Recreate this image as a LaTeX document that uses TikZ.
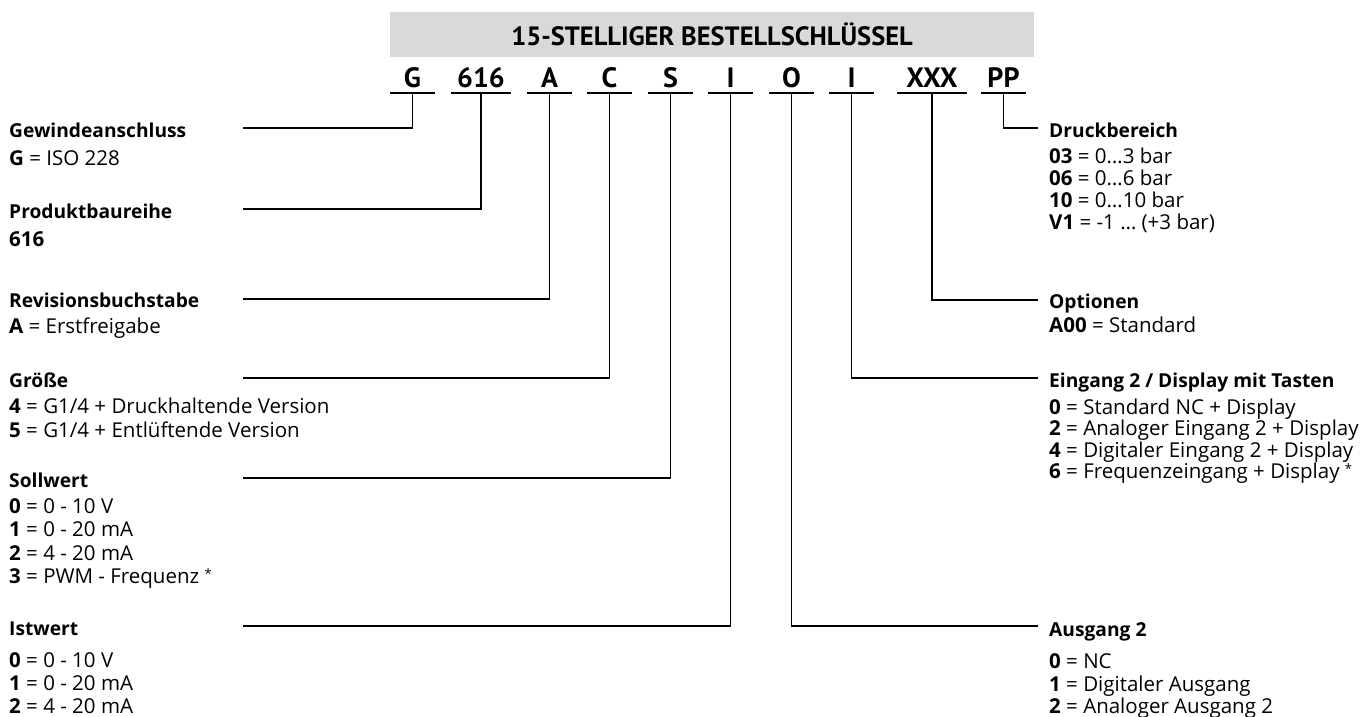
\documentclass[tikz,border=0pt]{standalone}
\usepackage{fontspec}
\setmainfont{Open Sans}
\newfontfamily\codefont{PT Sans}
\usetikzlibrary{positioning}

\definecolor{headgray}{RGB}{217,217,217}

\tikzset{
  heading/.style={anchor=base west, inner sep=0pt, font=\fontsize{19.2}{22}\selectfont\bfseries},
  value/.style={anchor=base west, inner sep=0pt, font=\fontsize{20.5}{23}\selectfont},
  codechar/.style={anchor=base, inner sep=0pt, font=\codefont\fontsize{28}{30}\selectfont\bfseries},
  bar/.style={line width=2.8pt},
  conn/.style={line width=1.6pt},
}
\newcommand{\footmark}{\ \raisebox{5pt}{\fontsize{13}{13}\selectfont *}}

\begin{document}
\begin{tikzpicture}[x=1pt, y=-1pt]
  \useasboundingbox (0,0) rectangle (1367,716);
  % title
  \node[fill=headgray, minimum width=644pt, minimum height=45pt, inner sep=0pt,
        font=\codefont\fontsize{26.5}{30}\selectfont\bfseries] (title) at (712,34.5) {15-STELLIGER BESTELLSCHLÜSSEL};
  % code characters
  \node[codechar, minimum width=45pt] (cthread) at (412.5,87) {G};
  \node[codechar, minimum width=60pt] (cseries) at (481,87) {616};
  \node[codechar, minimum width=45pt] (crev) at (549.5,87) {A};
  \node[codechar, minimum width=45pt] (csize) at (609.5,87) {C};
  \node[codechar, minimum width=45pt] (cset) at (670.5,87) {S};
  \node[codechar, minimum width=45pt] (cact) at (730.5,87) {I};
  \node[codechar, minimum width=45pt] (cout) at (791.5,87) {O};
  \node[codechar, minimum width=45pt] (cin) at (851.5,87) {I};
  \node[codechar, minimum width=70pt] (copt) at (932,87) {XXX};
  \node[codechar, minimum width=45pt] (crange) at (1003.5,87) {PP};
  \draw[bar] ([yshift=-6pt]cthread.base west) -- ([yshift=-6pt]cthread.base east);
  \draw[bar] ([yshift=-6pt]cseries.base west) -- ([yshift=-6pt]cseries.base east);
  \draw[bar] ([yshift=-6pt]crev.base west) -- ([yshift=-6pt]crev.base east);
  \draw[bar] ([yshift=-6pt]csize.base west) -- ([yshift=-6pt]csize.base east);
  \draw[bar] ([yshift=-6pt]cset.base west) -- ([yshift=-6pt]cset.base east);
  \draw[bar] ([yshift=-6pt]cact.base west) -- ([yshift=-6pt]cact.base east);
  \draw[bar] ([yshift=-6pt]cout.base west) -- ([yshift=-6pt]cout.base east);
  \draw[bar] ([yshift=-6pt]cin.base west) -- ([yshift=-6pt]cin.base east);
  \draw[bar] ([yshift=-6pt]copt.base west) -- ([yshift=-6pt]copt.base east);
  \draw[bar] ([yshift=-6pt]crange.base west) -- ([yshift=-6pt]crange.base east);
  % line ends
  \coordinate (lthread) at (243,128);
  \coordinate (lseries) at (243,209);
  \coordinate (lrev) at (243,299);
  \coordinate (lsize) at (243,378);
  \coordinate (lset) at (243,478);
  \coordinate (lact) at (243,626);
  \coordinate (rrange) at (1038,128);
  \coordinate (ropt) at (1038,300);
  \coordinate (rin) at (1038,378);
  \coordinate (rout) at (1038,626);
  \draw[conn] ([yshift=-6pt]cthread.base) |- (lthread);
  \draw[conn] ([yshift=-6pt]cseries.base) |- (lseries);
  \draw[conn] ([yshift=-6pt]crev.base) |- (lrev);
  \draw[conn] ([yshift=-6pt]csize.base) |- (lsize);
  \draw[conn] ([yshift=-6pt]cset.base) |- (lset);
  \draw[conn] ([yshift=-6pt]cact.base) |- (lact);
  \draw[conn] ([yshift=-6pt]cout.base) |- (rout);
  \draw[conn] ([yshift=-6pt]cin.base) |- (rin);
  \draw[conn] ([yshift=-6pt]copt.base) |- (ropt);
  \draw[conn] ([yshift=-6pt]crange.base) |- (rrange);
  % left column
  \node[heading] (thread) at (9,137) {Gewindeanschluss};
  \node[value] (thread1) at (9,165) {\textbf{G} = ISO 228};
  \node[heading] (series) at (9,218) {Produktbaureihe};
  \node[value] (series1) at (9,246) {\textbf{616}};
  \node[heading] (rev) at (9,307) {Revisionsbuchstabe};
  \node[value] (rev1) at (9,333) {\textbf{A} = Erstfreigabe};
  \node[heading] (size) at (9,387) {Größe};
  \node[value] (size1) at (9,413) {\textbf{4} = G1/4 + Druckhaltende Version};
  \node[value] (size2) at (9,437) {\textbf{5} = G1/4 + Entlüftende Version};
  \node[heading] (set) at (9,487) {Sollwert};
  \node[value] (set1) at (9,513) {\textbf{0} = 0 - 10 V};
  \node[value] (set2) at (9,536.5) {\textbf{1} = 0 - 20 mA};
  \node[value] (set3) at (9,560) {\textbf{2} = 4 - 20 mA};
  \node[value] (set4) at (9,583) {\textbf{3} = PWM - Frequenz\footmark};
  \node[heading] (act) at (9,635) {Istwert};
  \node[value] (act1) at (9,667) {\textbf{0} = 0 - 10 V};
  \node[value] (act2) at (9,690) {\textbf{1} = 0 - 20 mA};
  \node[value] (act3) at (9,713) {\textbf{2} = 4 - 20 mA};
  % right column
  \node[heading] (range) at (1049,137) {Druckbereich};
  \node[value] (range1) at (1049,163) {\textbf{03} = 0…3 bar};
  \node[value] (range2) at (1049,185) {\textbf{06} = 0…6 bar};
  \node[value] (range3) at (1049,207) {\textbf{10} = 0…10 bar};
  \node[value] (range4) at (1049,229) {\textbf{V1} = -1 … (+3 bar)};
  \node[heading] (opt) at (1049,308) {Optionen};
  \node[value] (opt1) at (1049,332) {\textbf{A00} = Standard};
  \node[heading] (in) at (1049,387) {Eingang 2 / Display mit Tasten};
  \node[value] (in1) at (1049,414) {\textbf{0} = Standard NC + Display};
  \node[value] (in2) at (1049,435.5) {\textbf{2} = Analoger Eingang 2 + Display};
  \node[value] (in3) at (1049,457) {\textbf{4} = Digitaler Eingang 2 + Display};
  \node[value] (in4) at (1049,478) {\textbf{6} = Frequenzeingang + Display\footmark};
  \node[heading] (out) at (1049,636) {Ausgang 2};
  \node[value] (out1) at (1049,668) {\textbf{0} = NC};
  \node[value] (out2) at (1049,691) {\textbf{1} = Digitaler Ausgang};
  \node[value] (out3) at (1049,713) {\textbf{2} = Analoger Ausgang 2};
\end{tikzpicture}
\end{document}
